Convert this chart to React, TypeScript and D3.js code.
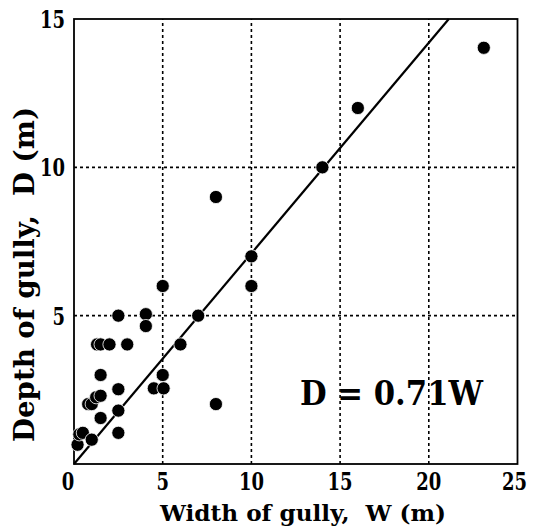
import React from "react";
import * as d3 from "d3";

const widths = [0.2, 0.3, 0.5, 1.0, 0.8, 1.0, 1.25, 1.5, 1.5, 2.5, 2.5, 2.5, 1.5, 1.3, 1.5, 2.0, 3.0, 2.5, 4.05, 4.05, 5.0, 6.0, 7.0, 5.0, 4.5, 5.05, 8.0, 8.0, 10, 10, 14, 16, 23.1];
const depths = [0.65, 1.0, 1.05, 0.82, 2.02, 2.02, 2.25, 2.3, 1.55, 1.05, 1.8, 2.52, 3.0, 4.03, 4.03, 4.03, 4.03, 5.0, 5.05, 4.65, 6.0, 4.03, 5.0, 3.0, 2.55, 2.55, 2.02, 9.0, 7.0, 6.0, 10, 12, 14.03];
const xTicks = [0, 5, 10, 15, 20, 25];
const yTicks = [5, 10, 15];
const slope = 0.71;

const W = 535, H = 530;
const L = 74, R = 517.5, T = 19, B = 464;
const FONT = "DejaVu Serif";

export default function App() {
  const x = d3.scaleLinear().domain([0, 25]).range([L, R]);
  const y = d3.scaleLinear().domain([0, 15]).range([B, T]);
  const wEnd = 15 / slope;
  const line = d3.line<number>().x((d) => x(d)).y((d) => y(slope * d));
  const tickStyle = { fontFamily: FONT, fontWeight: 700, fontSize: 24 } as const;
  const xOff = (t: number) => (t === 0 ? -6 : t === 25 ? -3 : 0);
  return (
    <svg width={W} height={H} style={{ position: "absolute", left: 0, top: 0, background: "#fff" }}>
      <rect x={0} y={0} width={W} height={H} fill="#fff" />
      {xTicks.filter((t) => t > 0 && t < 25).map((t) => (
        <line key={"gx" + t} x1={x(t)} x2={x(t)} y1={y(0)} y2={y(15)} stroke="#000" strokeWidth={1.6} strokeDasharray="3,3" />
      ))}
      {yTicks.filter((t) => t < 15).map((t) => (
        <line key={"gy" + t} x1={x(0)} x2={x(25)} y1={y(t)} y2={y(t)} stroke="#000" strokeWidth={1.6} strokeDasharray="3,3" />
      ))}
      <rect x={L} y={T} width={R - L} height={B - T} fill="none" stroke="#000" strokeWidth={1.8} />
      <path d={line([0, wEnd]) || ""} fill="none" stroke="#000" strokeWidth={2.2} />
      {widths.map((w, i) => (
        <circle key={i} cx={x(w)} cy={y(depths[i])} r={6.6} fill="#000" stroke="#fff" strokeWidth={0.8} />
      ))}
      {xTicks.map((t) => (
        <text key={"tx" + t} x={x(t) + xOff(t)} y={490} textAnchor="middle" style={tickStyle}
          textLength={String(t).length * 12.5} lengthAdjust="spacingAndGlyphs">{t}</text>
      ))}
      {yTicks.map((t) => (
        <text key={"ty" + t} x={65 - String(t).length * 12.5} y={y(t) + 9} style={tickStyle}
          textLength={String(t).length * 12.5} lengthAdjust="spacingAndGlyphs">{t}</text>
      ))}
      <text x={160} y={521} style={{ fontFamily: FONT, fontWeight: 700, fontSize: 22 }}
        textLength={286} lengthAdjust="spacingAndGlyphs">{"Width of gully,\u00a0\u00a0W (m)"}</text>
      <text transform={`translate(34,442) rotate(-90)`} style={{ fontFamily: FONT, fontWeight: 700, fontSize: 28 }}
        textLength={335} lengthAdjust="spacingAndGlyphs">{"Depth of gully,\u00a0\u00a0D (m)"}</text>
      <text x={300} y={405} style={{ fontFamily: FONT, fontWeight: 700, fontSize: 34 }}
        textLength={183} lengthAdjust="spacingAndGlyphs">D = 0.71W</text>
    </svg>
  );
}
